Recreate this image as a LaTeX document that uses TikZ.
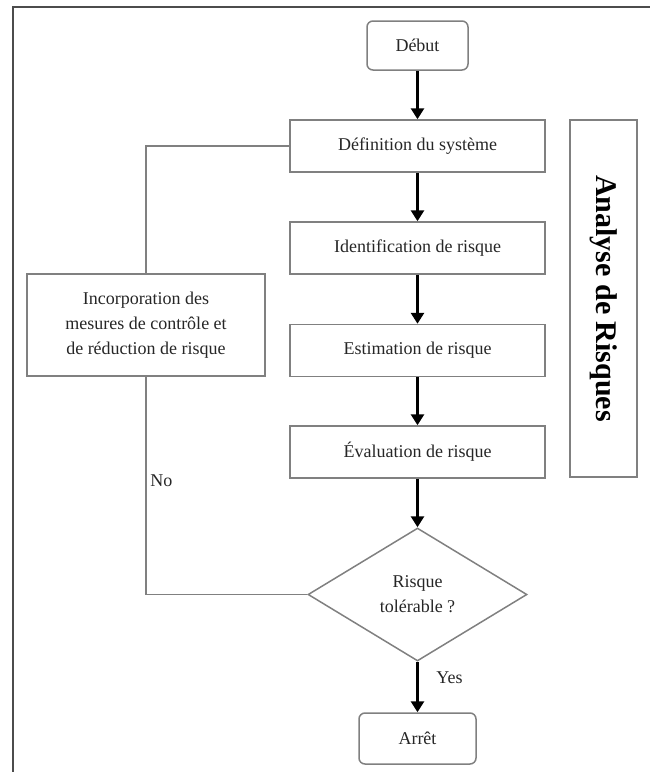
\documentclass[tikz,border=0pt]{standalone}
\usepackage{fontspec}
\setmainfont{Liberation Serif}
\usetikzlibrary{shapes.geometric,arrows.meta}
\tikzset{
  etape/.style={draw=black!50,line width=0.75pt,minimum width=127.5pt,minimum height=26pt,inner sep=2pt,align=center,font=\fontsize{9}{12.5}\selectfont,text=black!85},
  borne/.style={etape,rounded corners=3pt},
  fleche/.style={-{Triangle[width=6.5pt,length=5.5pt]},line width=1.4pt},
  retour/.style={draw=black!50,line width=0.75pt},
  lbl/.style={font=\fontsize{9}{11}\selectfont,text=black!85,inner sep=1pt}
}
\begin{document}
\begin{tikzpicture}[x=0.5pt,y=-0.5pt]
    \useasboundingbox (0,0) rectangle (650,772);
    \draw[black!70,line width=1pt] (13,772)--(13,7)--(650,7);
    % main chain
    \node[borne,minimum width=50.5pt,minimum height=24.5pt] (debut) at (417.5,45.5) {Début};
    \node[etape] (defin) at (417.5,146) {Définition du système};
    \node[etape] (ident) at (417.5,248) {Identification de risque};
    \node[etape] (estim) at (417.5,350.5) {Estimation de risque};
    \node[etape] (evalu) at (417.5,452) {Évaluation de risque};
    \node[etape,diamond,inner sep=0pt,minimum width=109.5pt,minimum height=66.5pt] (test) at (417.5,594.5) {Risque\\tolérable ?};
    \node[borne,minimum width=58.5pt,minimum height=25.5pt] (arret) at (417.5,738.5) {Arrêt};
    \node[etape,minimum width=119pt,minimum height=51pt] (incorp) at (146,325) {Incorporation des\\mesures de contrôle et\\de réduction de risque};
    \node[etape,rotate=-90,minimum width=178.5pt,minimum height=33.5pt,font=\bfseries\fontsize{15}{18}\selectfont,text=black] (analyse) at (603.5,298.5) {Analyse de Risques};
    \draw[fleche] (debut)--(defin);
    \draw[fleche] (defin)--(ident);
    \draw[fleche] (ident)--(estim);
    \draw[fleche] (estim)--(evalu);
    \draw[fleche] (evalu)--(test);
    \draw[fleche] (test)--(arret);
    % loop back
    \draw[retour] (test.west) -| (incorp.south);
    \draw[retour] (incorp.north) |- (defin.west);
    \node[lbl,anchor=west] (non) at (148,481) {No};
    \node[lbl,anchor=west] (oui) at (434,678) {Yes};
\end{tikzpicture}
\end{document}
